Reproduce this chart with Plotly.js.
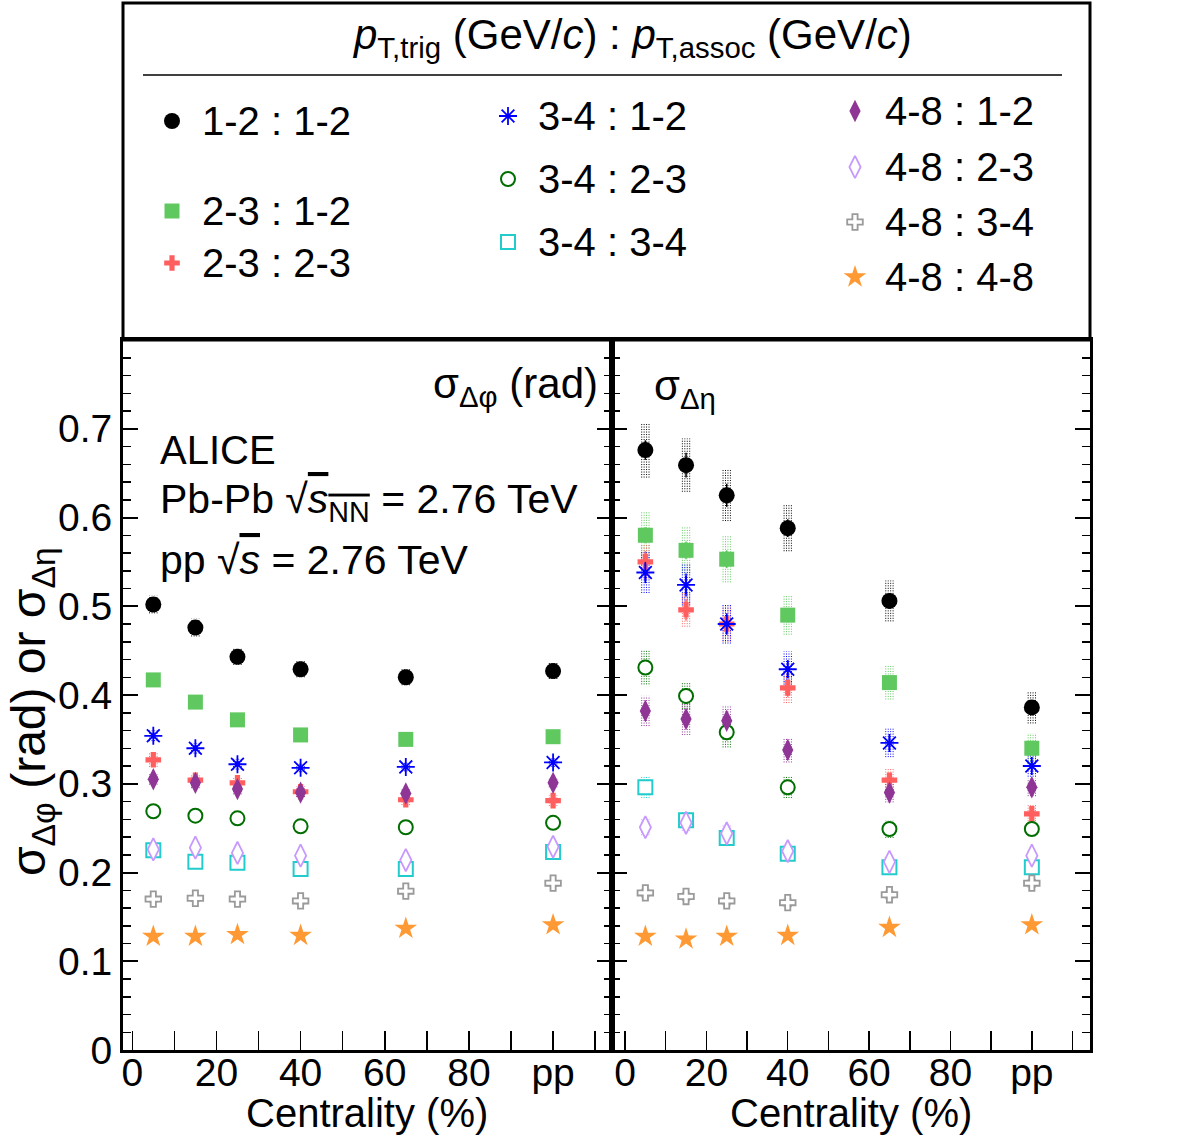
<!DOCTYPE html>
<html><head><meta charset="utf-8">
<script src="https://cdn.plot.ly/plotly-3.0.1.min.js"></script>
<style>html,body{margin:0;padding:0;background:#fff}</style>
</head><body><div id="chart" style="width:1182px;height:1138px"></div>
<script>
// ---------------- data ----------------
const centrality = [5, 15, 25, 40, 65, 100];          // 100 = pp
const xTickVals = [0, 20, 40, 60, 80, 100];
const xTickText = ['0', '20', '40', '60', '80', 'pp'];
const xMinorTickVals = [10, 30, 50, 70, 90, 110];
const yTickVals = [0, 0.1, 0.2, 0.3, 0.4, 0.5, 0.6, 0.7];
const seriesLabels = ['1-2 : 1-2', '2-3 : 1-2', '2-3 : 2-3', '3-4 : 1-2', '3-4 : 2-3',
                      '3-4 : 3-4', '4-8 : 1-2', '4-8 : 2-3', '4-8 : 3-4', '4-8 : 4-8'];

// sigma_dphi (rad)
const phi_12_12 = [0.502, 0.476, 0.443, 0.429, 0.420, 0.427];
const phi_23_12 = [0.417, 0.392, 0.372, 0.355, 0.350, 0.353];
const phi_23_23 = [0.327, 0.304, 0.301, 0.291, 0.282, 0.281];
const phi_34_12 = [0.354, 0.340, 0.322, 0.318, 0.319, 0.324];
const phi_34_23 = [0.269, 0.264, 0.261, 0.252, 0.251, 0.256];
const phi_34_34 = [0.225, 0.212, 0.211, 0.204, 0.204, 0.223];
const phi_48_12 = [0.305, 0.301, 0.294, 0.290, 0.289, 0.301];
const phi_48_23 = [0.226, 0.228, 0.222, 0.219, 0.214, 0.229];
const phi_48_34 = [0.170, 0.171, 0.170, 0.168, 0.179, 0.188];
const phi_48_48 = [0.128, 0.128, 0.130, 0.129, 0.137, 0.141];
// systematic uncertainties sigma_dphi
const phiSys_12_12 = [0.010, 0.010, 0.009, 0.009, 0.009, 0.009];
const phiSys_23_12 = [0.007, 0.007, 0.007, 0.006, 0.006, 0.006];
const phiSys_23_23 = [0.008, 0.007, 0.007, 0.006, 0.006, 0.006];
const phiSys_34_12 = [0.006, 0.006, 0.006, 0.005, 0.005, 0.005];
const phiSys_34_23 = [0.005, 0.005, 0.005, 0.005, 0.005, 0.005];
const phiSys_34_34 = [0.005, 0.005, 0.005, 0.005, 0.005, 0.005];
const phiSys_48_12 = [0.006, 0.006, 0.006, 0.005, 0.005, 0.005];
const phiSys_48_23 = [0.005, 0.005, 0.005, 0.005, 0.005, 0.005];
const phiSys_48_34 = [0.004, 0.004, 0.004, 0.004, 0.004, 0.004];
const phiSys_48_48 = [0.004, 0.004, 0.004, 0.004, 0.004, 0.004];

// sigma_deta
const eta_12_12 = [0.676, 0.659, 0.625, 0.588, 0.506, 0.386];
const eta_23_12 = [0.580, 0.563, 0.553, 0.490, 0.414, 0.340];
const eta_23_23 = [0.550, 0.496, 0.480, 0.408, 0.304, 0.266];
const eta_34_12 = [0.538, 0.524, 0.480, 0.429, 0.346, 0.320];
const eta_34_23 = [0.431, 0.399, 0.358, 0.296, 0.249, 0.249];
const eta_34_34 = [0.296, 0.259, 0.239, 0.221, 0.206, 0.206];
const eta_48_12 = [0.382, 0.373, 0.371, 0.338, 0.290, 0.296];
const eta_48_23 = [0.251, 0.256, 0.244, 0.224, 0.212, 0.219];
const eta_48_34 = [0.177, 0.173, 0.168, 0.166, 0.175, 0.188];
const eta_48_48 = [0.128, 0.125, 0.128, 0.129, 0.138, 0.141];
// systematic uncertainties sigma_deta
const etaSys_12_12 = [0.031, 0.030, 0.029, 0.026, 0.023, 0.018];
const etaSys_23_12 = [0.026, 0.026, 0.026, 0.022, 0.019, 0.017];
const etaSys_23_23 = [0.019, 0.019, 0.020, 0.017, 0.014, 0.011];
const etaSys_34_12 = [0.023, 0.023, 0.022, 0.020, 0.016, 0.012];
const etaSys_34_23 = [0.019, 0.015, 0.017, 0.012, 0.010, 0.008];
const etaSys_34_34 = [0.012, 0.009, 0.008, 0.007, 0.006, 0.006];
const etaSys_48_12 = [0.017, 0.018, 0.016, 0.014, 0.011, 0.010];
const etaSys_48_23 = [0.009, 0.009, 0.009, 0.008, 0.007, 0.007];
const etaSys_48_34 = [0.005, 0.005, 0.005, 0.005, 0.005, 0.005];
const etaSys_48_48 = [0.004, 0.004, 0.004, 0.004, 0.004, 0.004];
// statistical uncertainties sigma_deta
const etaStat_12_12 = [0.011, 0.014, 0.013, 0.010, 0.008, 0.006];
const etaStat_23_12 = [0.009, 0.010, 0.010, 0.008, 0.007, 0.005];
const etaStat_23_23 = [0.012, 0.012, 0.012, 0.010, 0.008, 0.006];
const etaStat_34_12 = [0.012, 0.013, 0.012, 0.010, 0.008, 0.006];
const etaStat_34_23 = [0.008, 0.009, 0.009, 0.007, 0.006, 0.005];
const etaStat_34_34 = [0.006, 0.006, 0.006, 0.005, 0.005, 0.004];
const etaStat_48_12 = [0.007, 0.007, 0.007, 0.006, 0.005, 0.005];
const etaStat_48_23 = [0.005, 0.005, 0.005, 0.005, 0.004, 0.004];
const etaStat_48_34 = [0.004, 0.004, 0.004, 0.004, 0.004, 0.004];
const etaStat_48_48 = [0.003, 0.003, 0.003, 0.003, 0.003, 0.003];

// tables built from the arrays above
const phiValues = [phi_12_12, phi_23_12, phi_23_23, phi_34_12, phi_34_23, phi_34_34, phi_48_12, phi_48_23, phi_48_34, phi_48_48];
const phiSys = [phiSys_12_12, phiSys_23_12, phiSys_23_23, phiSys_34_12, phiSys_34_23, phiSys_34_34, phiSys_48_12, phiSys_48_23, phiSys_48_34, phiSys_48_48];
const etaValues = [eta_12_12, eta_23_12, eta_23_23, eta_34_12, eta_34_23, eta_34_34, eta_48_12, eta_48_23, eta_48_34, eta_48_48];
const etaSys = [etaSys_12_12, etaSys_23_12, etaSys_23_23, etaSys_34_12, etaSys_34_23, etaSys_34_34, etaSys_48_12, etaSys_48_23, etaSys_48_34, etaSys_48_48];
const etaStat = [etaStat_12_12, etaStat_23_12, etaStat_23_23, etaStat_34_12, etaStat_34_23, etaStat_34_34, etaStat_48_12, etaStat_48_23, etaStat_48_34, etaStat_48_48];

// ---------------- styles ----------------
const W = 1182, H = 1138;
const FONT = 'Liberation Sans, Arial, Helvetica, sans-serif';
// open markers get a white fill (hollow look, hides the hatch behind them)
const styles = [
  {symbol: 'circle', size: 16, color: '#000000', lw: 0, open: false},
  {symbol: 'square', size: 15, color: '#5fc85f', lw: 0, open: false},
  {symbol: 'cross', size: 13, color: '#ff5f5f', lw: 0, open: false},
  {symbol: 'asterisk-open', size: 15, color: '#0000ff', lw: 1.8, open: false},
  {symbol: 'circle', size: 14, color: '#006e00', lw: 2, open: true},
  {symbol: 'square', size: 14, color: '#22cccc', lw: 2, open: true},
  {symbol: 'diamond-tall', size: 16, color: '#8e3596', lw: 0, open: false},
  {symbol: 'diamond-tall', size: 16, color: '#c799ff', lw: 1.8, open: true},
  {symbol: 'cross', size: 13, color: '#9a9a9a', lw: 1.8, open: true},
  {symbol: 'star', size: 17, color: '#ff9933', lw: 0, open: false}
];
// legend layout (pixel positions of marker centres)
const legendPos = [[172,121],[172,211],[172,263],[508,116],[508,179],[508,242],[855,111],[855,167],[855,222],[855,277]];
const hatchOffsets = [-0.9, -0.3, 0.3, 0.9];

function markerOf(s) {
  if (s.open) return {symbol: s.symbol, size: s.size, color: '#ffffff', line: {color: s.color, width: s.lw}};
  return {symbol: s.symbol, size: s.size, color: s.color, line: s.lw ? {color: s.color, width: s.lw} : {width: 0}};
}
function hatch(vals, sys, color, xa, ya) {
  const xs = [], ys = [];
  vals.forEach((v, i) => {
    hatchOffsets.forEach(o => {
      xs.push(centrality[i] + o, centrality[i] + o, null);
      ys.push(v - sys[i], v + sys[i], null);
    });
  });
  return {type: 'scatter', mode: 'lines', x: xs, y: ys, xaxis: xa, yaxis: ya,
          line: {color: color, width: 1, dash: '1px,1.5px'}, hoverinfo: 'skip', showlegend: false};
}

const traces = [];
styles.forEach((s, k) => {
  traces.push(hatch(phiValues[k], phiSys[k], s.color, 'x', 'y'));
  traces.push(hatch(etaValues[k], etaSys[k], s.color, 'x2', 'y2'));
});
styles.forEach((s, k) => {
  traces.push({type: 'scatter', mode: 'markers', name: seriesLabels[k], x: centrality, y: phiValues[k],
               xaxis: 'x', yaxis: 'y', marker: markerOf(s), showlegend: false});
  traces.push({type: 'scatter', mode: 'markers', name: seriesLabels[k], x: centrality, y: etaValues[k],
               xaxis: 'x2', yaxis: 'y2', marker: markerOf(s), showlegend: false,
               error_y: {type: 'data', array: etaStat[k], visible: true, color: s.color, thickness: 1.5, width: 0}});
});
// legend markers on an overlay pixel axis
styles.forEach((s, k) => {
  traces.push({type: 'scatter', mode: 'markers', x: [legendPos[k][0]], y: [legendPos[k][1]],
               xaxis: 'x3', yaxis: 'y3', marker: markerOf(s), hoverinfo: 'skip', showlegend: false});
});

const px = x => x / W, py = y => 1 - y / H;
const yDom = [py(1050), py(340)];

const annotations = [];
function ann(text, x, y, xanchor, size, extra) {
  annotations.push(Object.assign({text: text, x: px(x), y: py(y), xref: 'paper', yref: 'paper',
    xanchor: xanchor, yanchor: 'middle', showarrow: false, font: {family: FONT, size: size, color: '#000'}}, extra || {}));
}
ann('<i>p</i><sub>T,trig</sub> (GeV/<i>c</i>) : <i>p</i><sub>T,assoc</sub> (GeV/<i>c</i>)', 632, 38, 'center', 42);
seriesLabels.forEach((t, k) => ann(t, legendPos[k][0] + 28, legendPos[k][1], 'left', 40));
ann('σ<sub>Δφ</sub> (rad)', 600, 386, 'right', 42);
ann('σ<sub>Δη</sub>', 652, 388, 'left', 42);
ann('ALICE', 158, 450, 'left', 40);
ann('Pb-Pb √<span style="text-decoration:overline"><i>s</i><sub>NN</sub></span> = 2.76 TeV', 158, 502, 'left', 41);
ann('pp √<span style="text-decoration:overline"><i>s</i></span> = 2.76 TeV', 158, 560, 'left', 41);
ann('Centrality (%)', 367, 1113, 'center', 40);
ann('Centrality (%)', 851, 1113, 'center', 40);
ann('σ<sub>Δφ</sub> (rad) or σ<sub>Δη</sub>', 32, 712, 'center', 48, {textangle: -90});

const xBase = {
  tickmode: 'array', tickvals: xTickVals, ticktext: xTickText,
  ticks: 'inside', ticklen: 19, tickwidth: 1.5, tickcolor: '#000',
  minor: {tickmode: 'array', tickvals: xMinorTickVals, ticks: 'inside', ticklen: 19, tickwidth: 1.5, tickcolor: '#000', showgrid: false},
  ticklabelstandoff: -14,
  showline: true, linewidth: 3, linecolor: '#000', mirror: true,
  showgrid: false, zeroline: false, fixedrange: true,
  tickfont: {family: FONT, size: 39, color: '#000'}
};
const yBase = {
  range: [0, 0.8], tickmode: 'array', tickvals: yTickVals,
  ticks: 'inside', ticklen: 15, tickwidth: 2, tickcolor: '#000',
  minor: {tickmode: 'linear', tick0: 0, dtick: 0.02, ticks: 'inside', ticklen: 8, tickwidth: 1.5, tickcolor: '#000', showgrid: false},
  showline: true, linewidth: 3, linecolor: '#000', mirror: 'ticks',
  showgrid: false, zeroline: false, fixedrange: true,
  tickfont: {family: FONT, size: 39, color: '#000'}
};

const layout = {
  width: W, height: H, margin: {l: 0, r: 0, t: 0, b: 0},
  paper_bgcolor: '#fff', plot_bgcolor: 'rgba(0,0,0,0)', showlegend: false,
  font: {family: FONT, color: '#000'},
  xaxis: Object.assign({}, xBase, {domain: [px(123), px(612)], range: [-2.2, 114], anchor: 'y'}),
  xaxis2: Object.assign({}, xBase, {domain: [px(612), px(1090)], range: [-3.2, 114.3], anchor: 'y2'}),
  yaxis: Object.assign({}, yBase, {domain: yDom, anchor: 'x'}),
  yaxis2: Object.assign({}, yBase, {domain: yDom, anchor: 'x2', showticklabels: false}),
  xaxis3: {domain: [0, 1], range: [0, W], visible: false, fixedrange: true, anchor: 'y3'},
  yaxis3: {domain: [0, 1], range: [H, 0], visible: false, fixedrange: true, anchor: 'x3'},
  shapes: [
    {type: 'rect', xref: 'paper', yref: 'paper', x0: px(123), x1: px(1090), y0: py(3), y1: py(340), line: {color: '#000', width: 3}},
    {type: 'line', xref: 'paper', yref: 'paper', x0: px(143), x1: px(1062), y0: py(75), y1: py(75), line: {color: '#000', width: 1.5}}
  ],
  annotations: annotations
};

Plotly.newPlot('chart', traces, layout, {staticPlot: true, displayModeBar: false});
</script>
</body></html>
